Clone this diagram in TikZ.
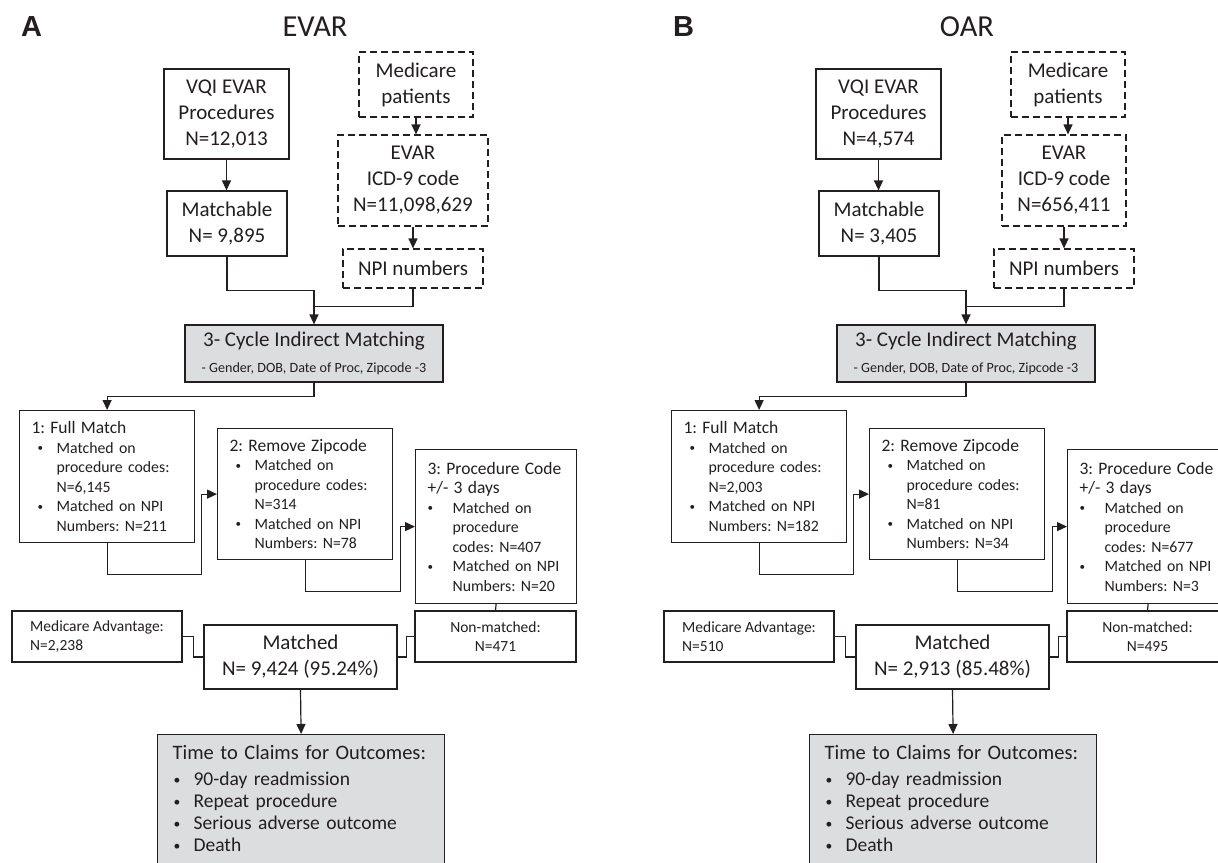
\documentclass[tikz,border=0pt]{standalone}
\usepackage{fontspec}
\setmainfont{Carlito}
\newfontfamily\labfont{Liberation Sans}
\usetikzlibrary{positioning,arrows.meta}
\frenchspacing
\definecolor{ln}{HTML}{231F20}
\definecolor{gr}{HTML}{DCDDDF}
\newcommand\hd[1]{\mbox{\fontsize{17.5}{20}\selectfont #1}}
\newcommand\bdot{\raisebox{1.5pt}{\scalebox{0.7}{\textbullet}}}
\newcommand\bul[1][6pt]{\par\noindent\makebox[25pt][l]{\hspace{#1}\bdot}}
\newcommand\ind{\par\noindent\hspace*{25pt}}
\newcommand\tbul{\par\noindent\makebox[21pt][l]{\hspace{1pt}\bdot}}
\tikzset{
  bx/.style={rectangle, draw=ln, line width=1.2pt, inner sep=0pt, align=center, text=ln, font=\fontsize{21}{26}\selectfont},
  dbx/.style={bx, dash pattern=on 7pt off 4pt},
  gbx/.style={bx, fill=gr},
  st/.style={rectangle, draw=ln, line width=1.2pt, inner xsep=12pt, inner ysep=0pt, align=left, anchor=north west, text=ln, font=\fontsize{15.8}{19.5}\selectfont},
  sm/.style={bx, font=\fontsize{15.5}{19}\selectfont},
  tt/.style={text=ln, font=\fontsize{30.5}{32}\selectfont},
  lt/.style={text=ln, font=\labfont\bfseries\fontsize{29}{30}\selectfont},
  cn/.style={draw=ln, line width=1.2pt},
  >={Triangle[length=10pt,width=9pt]}
}
\begin{document}
\begin{tikzpicture}[x=1pt,y=-1pt]
	\useasboundingbox (0,0) rectangle (1218,862);
	\clip (0,0) rectangle (1218,862);
	\fill[white] (0,0) rectangle (1218,862);
	%
	% panel A: EVAR
	\node[lt] (a-lab) at (31.5,27) {A};
	\node[tt] (a-ttl) at (315,27) {EVAR};
	\node[bx, minimum width=125pt, minimum height=90pt] (a-vqi) at (226.5,114) {VQI EVAR\\Procedures\\N=12,013};
	\node[bx, minimum width=120pt, minimum height=65pt] (a-mtb) at (227,223.5) {Matchable\\N= 9,895};
	\node[dbx, minimum width=114pt, minimum height=65pt] (a-med) at (416,84.5) {Medicare\\patients};
	\node[dbx, minimum width=150pt, minimum height=91pt] (a-icd) at (413,180.5) {EVAR\\ICD-9 code\\N=11,098,629};
	\node[dbx, minimum width=140pt, minimum height=39pt] (a-npi) at (413,268.5) {NPI numbers};
	\node[gbx, minimum width=258pt, minimum height=57pt] (a-cyc) at (314,353.5) {3- Cycle Indirect Matching\\{\fontsize{14.1}{16}\selectfont - Gender, DOB, Date of Proc, Zipcode -3}};
	\node[st, text width=151pt, minimum height=132pt] (a-s1) at (19,410) {\hd{1: Full Match}\bul Matched on\ind procedure codes:\ind N=6,145\bul Matched on NPI\ind Numbers: N=211};
	\node[st, text width=151pt, minimum height=131pt] (a-s2) at (217,428) {\hd{2: Remove Zipcode}\bul Matched on\ind procedure codes:\ind N=314\bul Matched on NPI\ind Numbers: N=78};
	\node[st, text width=137pt, minimum height=154pt] (a-s3) at (415,449) {\hd{3: Procedure Code}\par\hd{+/- 3 days}\bul[0pt]Matched on\ind procedure\ind codes: N=407\bul[0pt]Matched on NPI\ind Numbers: N=20};
	\node[sm, align=left, minimum width=170pt, minimum height=51pt] (a-ma) at (97,636.5) {Medicare Advantage:\\N=2,238};
	\node[sm, minimum width=161pt, minimum height=51pt] (a-non) at (495.5,636.5) {Non-matched:\\N=471};
	\node[bx, minimum width=193pt, minimum height=64pt] (a-mat) at (300.5,657) {Matched\\N= 9,424 (95.24\%)};
	\node[st, fill=gr, text width=257pt, inner xsep=15pt, inner ysep=11pt, font=\fontsize{19.5}{22}\selectfont] (a-tim) at (157,734) {{\fontsize{20.5}{22}\selectfont Time to Claims for Outcomes:}\par\vspace{4pt}\tbul 90-day readmission\tbul Repeat procedure\tbul Serious adverse outcome\tbul Death\rule[-30pt]{0pt}{30pt}};
	%
	\draw[cn,->] (a-vqi.south) -- (a-vqi.south |- a-mtb.north);
	\draw[cn,->] (a-med.south) -- (a-med.south |- a-icd.north);
	\draw[cn,->] (a-icd.south) -- (a-npi.north);
	\draw[cn,->] (a-mtb.south) |- ([yshift=34pt]a-cyc.north) -- (a-cyc.north);
	\draw[cn] (a-npi.south) |- ([yshift=18pt]a-cyc.north);
	\draw[cn,->] (a-cyc.south) -- ++(0,14) -| (a-s1.north);
	\draw[cn,->] (a-s1.south) -- ++(0,31) -- ++(94,0) |- (a-s2.west);
	\draw[cn,->] (a-s2.south) -- ++(0,31) -- ++(95,0) |- (a-s3.west);
	\draw[cn] (a-s3.south) -- (a-non.north);
	\draw[cn] (a-ma.east) -- ++(11,0) |- (a-mat.west);
	\draw[cn] (a-mat.east) -- ++(9,0) |- (a-non.west);
	\draw[cn,->] (a-mat.south) -- (a-tim.north);
	%
	% panel B: OAR
	\begin{scope}[xshift=652pt]
	\node[lt] (b-lab) at (31.5,27) {B};
	\node[tt] (b-ttl) at (315,27) {OAR};
	\node[bx, minimum width=125pt, minimum height=90pt] (b-vqi) at (226.5,114) {VQI EVAR\\Procedures\\N=4,574};
	\node[bx, minimum width=120pt, minimum height=65pt] (b-mtb) at (227,223.5) {Matchable\\N= 3,405};
	\node[dbx, minimum width=114pt, minimum height=65pt] (b-med) at (416,84.5) {Medicare\\patients};
	\node[dbx, minimum width=124pt, minimum height=91pt] (b-icd) at (412,180.5) {EVAR\\ICD-9 code\\N=656,411};
	\node[dbx, minimum width=140pt, minimum height=39pt] (b-npi) at (412,268.5) {NPI numbers};
	\node[gbx, minimum width=258pt, minimum height=57pt] (b-cyc) at (314,353.5) {3- Cycle Indirect Matching\\{\fontsize{14.1}{16}\selectfont - Gender, DOB, Date of Proc, Zipcode -3}};
	\node[st, text width=151pt, minimum height=132pt] (b-s1) at (19,410) {\hd{1: Full Match}\bul Matched on\ind procedure codes:\ind N=2,003\bul Matched on NPI\ind Numbers: N=182};
	\node[st, text width=151pt, minimum height=131pt] (b-s2) at (217,428) {\hd{2: Remove Zipcode}\bul Matched on\ind procedure codes:\ind N=81\bul Matched on NPI\ind Numbers: N=34};
	\node[st, text width=137pt, minimum height=154pt] (b-s3) at (415,449) {\hd{3: Procedure Code}\par\hd{+/- 3 days}\bul[0pt]Matched on\ind procedure\ind codes: N=677\bul[0pt]Matched on NPI\ind Numbers: N=3};
	\node[sm, align=left, minimum width=170pt, minimum height=51pt] (b-ma) at (97,636.5) {Medicare Advantage:\\N=510};
	\node[sm, minimum width=161pt, minimum height=51pt] (b-non) at (495.5,636.5) {Non-matched:\\N=495};
	\node[bx, minimum width=193pt, minimum height=64pt] (b-mat) at (300.5,657) {Matched\\N= 2,913 (85.48\%)};
	\node[st, fill=gr, text width=257pt, inner xsep=15pt, inner ysep=11pt, font=\fontsize{19.5}{22}\selectfont] (b-tim) at (157,734) {{\fontsize{20.5}{22}\selectfont Time to Claims for Outcomes:}\par\vspace{4pt}\tbul 90-day readmission\tbul Repeat procedure\tbul Serious adverse outcome\tbul Death\rule[-30pt]{0pt}{30pt}};
	%
	\draw[cn,->] (b-vqi.south) -- (b-vqi.south |- b-mtb.north);
	\draw[cn,->] (b-med.south) -- (b-med.south |- b-icd.north);
	\draw[cn,->] (b-icd.south) -- (b-npi.north);
	\draw[cn,->] (b-mtb.south) |- ([yshift=34pt]b-cyc.north) -- (b-cyc.north);
	\draw[cn] (b-npi.south) |- ([yshift=18pt]b-cyc.north);
	\draw[cn,->] (b-cyc.south) -- ++(0,14) -| (b-s1.north);
	\draw[cn,->] (b-s1.south) -- ++(0,31) -- ++(94,0) |- (b-s2.west);
	\draw[cn,->] (b-s2.south) -- ++(0,31) -- ++(95,0) |- (b-s3.west);
	\draw[cn] (b-s3.south) -- (b-non.north);
	\draw[cn] (b-ma.east) -- ++(11,0) |- (b-mat.west);
	\draw[cn] (b-mat.east) -- ++(9,0) |- (b-non.west);
	\draw[cn,->] (b-mat.south) -- (b-tim.north);
	\end{scope}
\end{tikzpicture}
\end{document}
